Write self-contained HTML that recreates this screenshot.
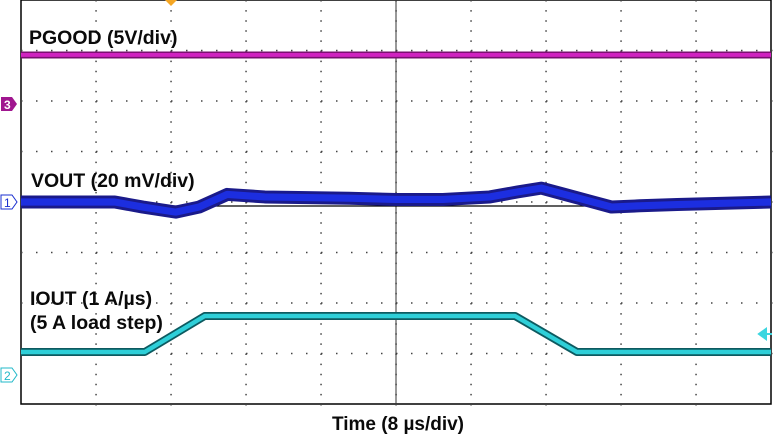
<!DOCTYPE html>
<html><head><meta charset="utf-8"><style>
body{margin:0;background:#fff;width:778px;height:440px;overflow:hidden;font-family:"Liberation Sans",sans-serif}
svg{display:block}
.lbl{font-family:"Liberation Sans",sans-serif;font-weight:bold;font-size:19.5px;fill:#0a0a0a}
</style></head><body>
<svg id="scope" width="778" height="440">
<g id="grid"></g>
<g id="traces"></g>
<text class="lbl" x="29" y="44">PGOOD (5V/div)</text>
<text class="lbl" x="31" y="187">VOUT (20 mV/div)</text>
<text class="lbl" x="30" y="305">IOUT (1 A/µs)</text>
<text class="lbl" x="30" y="329">(5 A load step)</text>
<text class="lbl" x="398" y="430" text-anchor="middle" style="font-size:19px">Time (8 µs/div)</text>
<polygon points="165,0 177,0 171,6" fill="#f5a623"/>
<g><path d="M1,97 H12 L17,104 L12,111 H1 Z" fill="#a0168f"/><text x="4" y="109" font-size="12" font-weight="bold" fill="#fff" font-family="Liberation Sans">3</text></g>
<g><path d="M1,195 H12 L17,202 L12,209 H1 Z" fill="#fff" stroke="#1a2fd0"/><text x="4" y="207" font-size="12" fill="#1a2fd0" font-family="Liberation Sans">1</text></g>
<g><path d="M1,368 H12 L17,375 L12,382 H1 Z" fill="#fff" stroke="#20b8c8"/><text x="4" y="380" font-size="12" fill="#20b8c8" font-family="Liberation Sans">2</text></g>
<path d="M759,334 L766,329 L766,339 Z M764,334 H772" fill="#3cd6e0" stroke="#3cd6e0" stroke-width="2"/>
</svg>
<script>
// data (time in µs, 8 µs/div, 10 div)
const voutT=[0,10,13,16.5,19,22,26,35,40,45,50,53,55.5,58,61,63,66,70,80];
const voutMv=[0,0,-2,-4,-2,3,2,1.5,1,1,2,4,5.5,3,0,-2,-1.5,-1,0];
const ioutT=[0,13.2,19.6,52.7,59.3,80];
const ioutA=[0,0,5,5,0,0];
const pgoodT=[0,80];
const pgoodV=[5,5];
const NS='http://www.w3.org/2000/svg';
const X0=21,X1=771,Y0=0,Y1=404;
const xs=t=>X0+t*(X1-X0)/80;
const yV=v=>202-v*50.5/20;
const yI=a=>352-a*7.2;
const yP=v=>104-v*50.5/5.15;
const grid=document.getElementById('grid');
function mk(tag,at,parent){const e=document.createElementNS(NS,tag);for(const k in at)e.setAttribute(k,at[k]);parent.appendChild(e);return e;}
const border=mk('rect',{x:X0,y:Y0,width:X1-X0,height:Y1-Y0,fill:'none',stroke:'#000','stroke-width':1.5},grid);


const dx=(X1-X0)/10,dy=(Y1-Y0)/8;
let d='';
for(let i=1;i<10;i++){const x=X0+i*dx;for(let j=0;j<=40;j++){d+=`M${x-0.7},${Y0+j*dy/5}h1.5v1.5h-1.5z`;}}
for(let j=1;j<8;j++){const y=Y0+j*dy;for(let i=0;i<=50;i++){d+=`M${X0+i*dx/5},${y-0.7}h1.5v1.5h-1.5z`;}}
const dots=mk('path',{d:d,fill:'#444'},grid);


const cv=mk('line',{x1:X0+5*dx,x2:X0+5*dx,y1:Y0,y2:Y1,stroke:'#333','stroke-width':1},grid);


const base=mk('line',{x1:160,x2:590,y1:206,y2:206,stroke:'#000','stroke-width':1.2},grid);


const tr=document.getElementById('traces');
function pts(T,V,f){return T.map((t,i)=>xs(t)+','+f(V[i])).join(' ');}
function trace(T,V,f,w,outer,inner,name){
 const o=mk('polyline',{points:pts(T,V,f),fill:'none',stroke:outer,'stroke-width':w,'stroke-linejoin':'round'},tr);
 
 
 const n=mk('polyline',{points:pts(T,V,f),fill:'none',stroke:inner,'stroke-width':w*0.55,'stroke-linejoin':'round'},tr);
 
 
}
trace(pgoodT,pgoodV,yP,7,'#7a1070','#d022c0','pgood-trace');
trace(voutT,voutMv,yV,13,'#1a1a8a','#1c2ee0','vout-trace');
trace(ioutT,ioutA,yI,8,'#0d5a60','#2ecfd8','iout-trace');
</script>
</body></html>
